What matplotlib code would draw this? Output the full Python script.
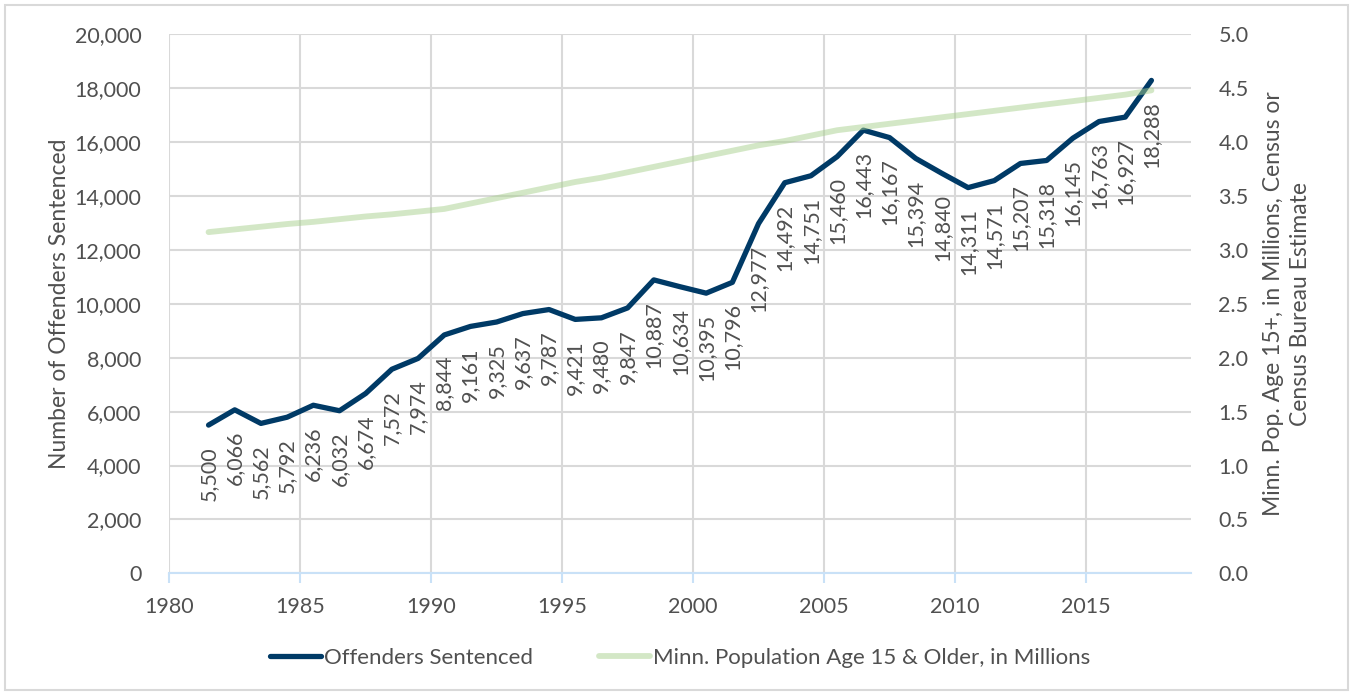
#!/usr/bin/env python3
"""Offenders sentenced vs. Minnesota population age 15+, 1981-2017."""

import matplotlib
matplotlib.use("Agg")
import matplotlib.pyplot as plt
from matplotlib.patches import Rectangle
from matplotlib.ticker import FuncFormatter, MultipleLocator

plt.rcParams["font.family"] = ["Lato", "DejaVu Sans"]

# ── data ──────────────────────────────────────────────────────
years = list(range(1981, 2018))
offenders = [
    5500, 6066, 5562, 5792, 6236, 6032, 6674, 7572, 7974, 8844,
    9161, 9325, 9637, 9787, 9421, 9480, 9847, 10887, 10634, 10395,
    10796, 12977, 14492, 14751, 15460, 16443, 16167, 15394, 14840, 14311,
    14571, 15207, 15318, 16145, 16763, 16927, 18288,
]
population = [
    3.165, 3.19, 3.215, 3.24, 3.26, 3.285, 3.31, 3.33, 3.355, 3.38,
    3.43, 3.48, 3.53, 3.58, 3.63, 3.67, 3.72, 3.77, 3.82, 3.87,
    3.92, 3.97, 4.01, 4.06, 4.11, 4.14, 4.17, 4.20, 4.23, 4.26,
    4.29, 4.32, 4.35, 4.38, 4.41, 4.44, 4.48,
]

NAVY = "#003A66"
GREEN = "#A9D18E"
GRID = "#D9D9D9"
TEXT = "#505050"
FS = 15.5
FS_LABEL = 16.5

# points sit mid-year on a date-like axis
xs = [y + 0.5 for y in years]

fig = plt.figure(figsize=(13.52, 6.94), dpi=100)
ax = fig.add_axes([0.1252, 0.1739, 0.7555, 0.7767])
ax2 = ax.twinx()

ax.plot(xs, offenders, color=NAVY, lw=3.8, solid_capstyle="round",
        solid_joinstyle="round", label="Offenders Sentenced", zorder=3)
ax2.plot(xs, population, color=GREEN, alpha=0.5, lw=4.2,
         solid_capstyle="round",
         label="Minn. Population Age 15 & Older, in Millions", zorder=3)

for x, v in zip(xs, offenders):
    ax.annotate(f"{v:,}", (x, v), xytext=(0, -15), textcoords="offset points",
                rotation=90, ha="center", va="top", fontsize=FS, color=TEXT)

# axes setup
ax.set_xlim(1980, 2019)
ax.set_ylim(0, 20000)
ax2.set_ylim(0, 5)
ax.xaxis.set_major_locator(MultipleLocator(5))
ax.yaxis.set_major_locator(MultipleLocator(2000))
ax2.yaxis.set_major_locator(MultipleLocator(0.5))
ax.yaxis.set_major_formatter(FuncFormatter(lambda v, _: f"{v:,.0f}"))
ax2.yaxis.set_major_formatter(FuncFormatter(lambda v, _: f"{v:.1f}"))

ax.grid(True, color=GRID, lw=1.5)
ax.set_axisbelow(True)
for a in (ax, ax2):
    for s in a.spines.values():
        s.set_visible(False)
ax.spines["bottom"].set_visible(True)
ax.spines["bottom"].set_color("#C9E1F7")
ax.spines["bottom"].set_linewidth(1.5)

ax.tick_params(axis="x", colors="#C9E1F7", length=7, width=1.5, pad=10,
               labelsize=FS, labelcolor=TEXT)
ax.tick_params(axis="y", length=0, pad=20, labelsize=FS, labelcolor=TEXT)
ax2.tick_params(axis="y", length=0, pad=20, labelsize=FS, labelcolor=TEXT)

ax.set_ylabel("Number of Offenders Sentenced", fontsize=FS_LABEL, color=TEXT,
              labelpad=3)
ax2.set_ylabel("Minn. Pop. Age 15+, in Millions, Census or\nCensus Bureau Estimate",
               fontsize=FS_LABEL, color=TEXT, labelpad=10, linespacing=1.35)

h1, l1 = ax.get_legend_handles_labels()
h2, l2 = ax2.get_legend_handles_labels()
fig.legend(h1 + h2, l1 + l2, loc="center", bbox_to_anchor=(0.503, 1 - 658 / 694),
           ncol=2, frameon=False, fontsize=16, handlelength=2.3,
           handletextpad=0.1, columnspacing=3.0, labelcolor=TEXT)

fig.patches.append(Rectangle((0.004, 0.006), 0.993, 0.987, transform=fig.transFigure,
                             fill=False, edgecolor=GRID, lw=1.5))

fig.savefig("out.png", dpi=100)
